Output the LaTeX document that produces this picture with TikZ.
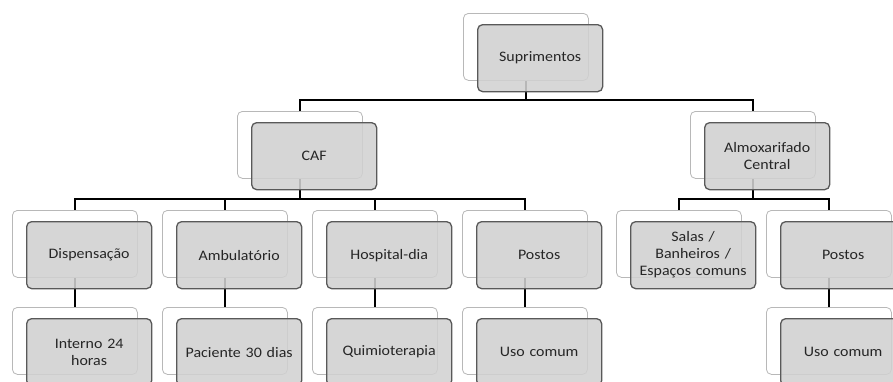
\documentclass[tikz,border=0pt]{standalone}
\usepackage{fontspec}
\setmainfont{Carlito}[FakeStretch=1.1]
\usetikzlibrary{backgrounds}
\begin{document}
\begin{tikzpicture}[x=1pt,y=-1pt,
  backbox/.style={draw=black!28, fill=white, rounded corners=5pt, line width=0.8pt,
    minimum width=125pt, minimum height=67pt, inner sep=0pt, anchor=north west},
  frontbox/.style={draw=black!65, fill=black!18, fill opacity=0.88, text opacity=1,
    rounded corners=5pt, line width=1.3pt, minimum width=125pt, minimum height=67pt,
    inner sep=2pt, anchor=north west, align=center, text width=119pt,
    font=\fontsize{14.5}{17}\selectfont, text=black!85},
  conn/.style={line width=1.8pt, black}]
\useasboundingbox (0,0) rectangle (893,381);
\clip (0,0) rectangle (893,381);
\newcommand\obox[4]{%
  \node[backbox] (#1b) at (#2,#3) {};
  \node[frontbox] (#1) at (#2+14,#3+11) {#4};}
\obox{sup}{463}{13}{Suprimentos}
\obox{caf}{237}{111}{CAF}
\obox{alm}{690}{111}{Almoxarifado\\Central}
\obox{dis}{12}{210}{Dispensação}
\obox{amb}{162}{210}{Ambulatório}
\obox{hos}{312}{210}{Hospital-dia}
\obox{pol}{462}{210}{Postos}
\obox{sal}{616}{210}{Salas /\\Banheiros /\\Espaços comuns}
\obox{por}{766}{210}{Postos}
\obox{int}{12}{307}{Interno 24\\horas}
\obox{pac}{162}{307}{Paciente 30 dias}
\obox{qui}{312}{307}{Quimioterapia}
\obox{usl}{462}{307}{Uso comum}
\obox{usr}{766}{307}{Uso comum}
\begin{scope}[on background layer]
\draw[conn] (supb.south) -- ++(0,19) -| (cafb.north);
\draw[conn] (supb.south) -- ++(0,19) -| (almb.north);
\foreach \c in {dis,amb,hos,pol}
  \draw[conn] (cafb.south) -- ++(0,20) -| (\c b.north);
\foreach \c in {sal,por}
  \draw[conn] (almb.south) -- ++(0,20) -| (\c b.north);
\draw[conn] (disb.south) -- (intb.north);
\draw[conn] (ambb.south) -- (pacb.north);
\draw[conn] (hosb.south) -- (quib.north);
\draw[conn] (polb.south) -- (uslb.north);
\draw[conn] (porb.south) -- (usrb.north);
\end{scope}
\end{tikzpicture}
\end{document}
